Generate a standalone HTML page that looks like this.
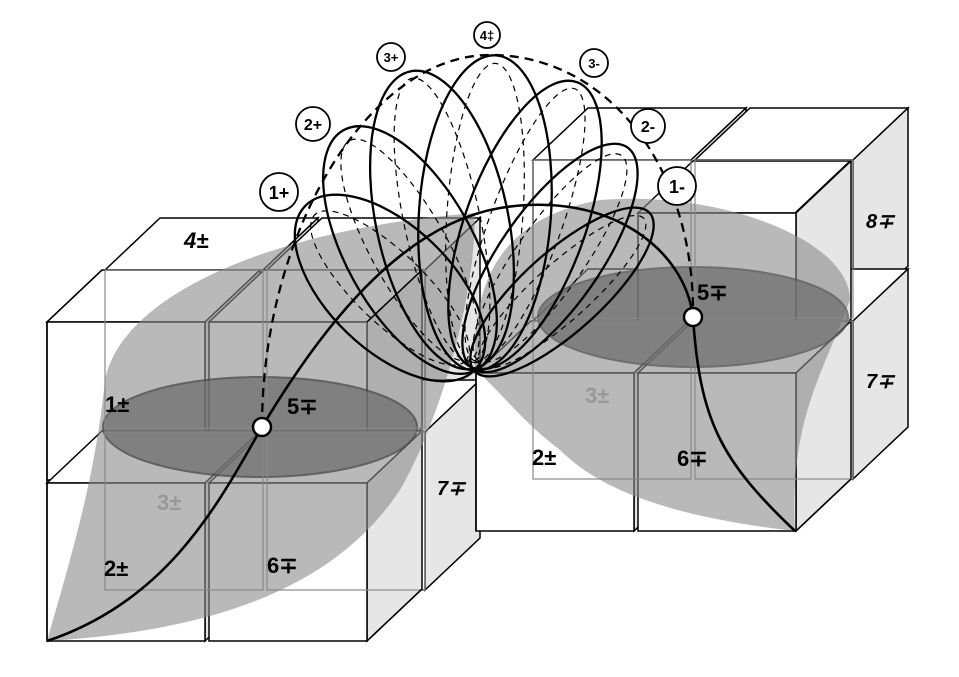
<!DOCTYPE html>
<html><head><style>html,body{margin:0;padding:0;background:#fff}svg{display:block}</style></head>
<body>
<svg width="959" height="677" viewBox="0 0 959 677" xmlns="http://www.w3.org/2000/svg" font-family="Liberation Sans, sans-serif">
<defs>
<g id="cube">
  <polygon points="0,0 55,-52 213,-52 158,0" fill="#fff" stroke="#000" stroke-width="1.5"/>
  <polygon points="158,0 213,-52 213,106 158,158" fill="#e6e6e6" stroke="#000" stroke-width="1.5"/>
  <rect x="0" y="0" width="158" height="158" fill="#fff" stroke="#000" stroke-width="1.5"/>
</g>
</defs>

<!-- LEFT GROUP: back layer -->
<use href="#cube" x="105" y="270"/><use href="#cube" x="267" y="270"/>
<use href="#cube" x="105" y="432"/><use href="#cube" x="267" y="432"/>
<!-- LEFT front layer -->
<use href="#cube" x="47" y="322"/><use href="#cube" x="209" y="322"/>
<use href="#cube" x="47" y="483"/><use href="#cube" x="209" y="483"/>

<!-- RIGHT GROUP back layer -->
<use href="#cube" x="533" y="160"/><use href="#cube" x="695" y="160"/>
<use href="#cube" x="533" y="321"/><use href="#cube" x="695" y="321"/>
<!-- RIGHT front layer -->
<use href="#cube" x="638" y="213"/>
<use href="#cube" x="476" y="373"/><use href="#cube" x="638" y="373"/>

<!-- gray blobs -->
<path d="M47,641 C70,560 95,480 105,380 C120,300 260,230 475,213 C475,300 440,420 400,490 C340,580 230,630 47,641 Z" fill="#8a8a8a" opacity="0.6"/>
<path d="M475,370 C470,260 520,215 600,200 C720,190 850,240 850,300 C820,380 790,420 795,531 C700,520 610,500 560,450 C520,420 500,390 475,370 Z" fill="#8a8a8a" opacity="0.6"/>
<ellipse cx="260" cy="427" rx="157" ry="50" fill="#6e6e6e" opacity="0.75" stroke="#444" stroke-width="2"/>
<ellipse cx="693" cy="317" rx="155" ry="50" fill="#6e6e6e" opacity="0.75" stroke="#555" stroke-width="2"/>

<!-- hidden/transparent edges -->
<g fill="none" stroke="#888" stroke-width="1.2">
  <rect x="105" y="270" width="158" height="158"/><rect x="267" y="270" width="158" height="158"/>
  <rect x="105" y="432" width="158" height="158"/><rect x="267" y="432" width="158" height="158"/>
  <rect x="533" y="160" width="158" height="158"/><rect x="695" y="160" width="158" height="158"/>
  <rect x="533" y="321" width="158" height="158"/><rect x="695" y="321" width="158" height="158"/>
</g>
<g fill="none" stroke="#000" stroke-width="1.5">
  <polyline points="47,641 47,322 102,270"/><line x1="367" y1="322" x2="422" y2="270"/>
  <line x1="476" y1="531" x2="476" y2="373"/><line x1="795" y1="213" x2="850" y2="161"/>
  <line x1="796" y1="531" x2="851" y2="479"/>
  <line x1="367" y1="641" x2="422" y2="589"/>
</g>

<!-- loops -->
<g fill="none" stroke="#000">
  <g stroke-width="1.2" stroke-dasharray="6,5">
    <ellipse cx="390" cy="288" rx="105" ry="35" transform="rotate(44 390 288)"/>
    <ellipse cx="410" cy="250" rx="125" ry="38" transform="rotate(61 410 250)"/>
    <ellipse cx="442" cy="220" rx="145" ry="38" transform="rotate(78 442 220)"/>
    <ellipse cx="485" cy="213" rx="150" ry="38" transform="rotate(94 485 213)"/>
    <ellipse cx="525" cy="225" rx="145" ry="36" transform="rotate(110 525 225)"/>
    <ellipse cx="550" cy="258" rx="125" ry="34" transform="rotate(125 550 258)"/>
    <ellipse cx="562" cy="292" rx="110" ry="28" transform="rotate(138 562 292)"/>
  </g>
  <g stroke-width="2.3">
    <ellipse cx="390" cy="288" rx="118" ry="62" transform="rotate(44 390 288)"/>
    <ellipse cx="410" cy="250" rx="137" ry="64" transform="rotate(61 410 250)"/>
    <ellipse cx="442" cy="220" rx="152" ry="66" transform="rotate(78 442 220)"/>
    <ellipse cx="485" cy="213" rx="158" ry="66" transform="rotate(94 485 213)"/>
    <ellipse cx="525" cy="225" rx="152" ry="60" transform="rotate(110 525 225)"/>
    <ellipse cx="550" cy="258" rx="135" ry="50" transform="rotate(125 550 258)"/>
    <ellipse cx="562" cy="292" rx="118" ry="40" transform="rotate(138 562 292)"/>
  </g>
  <path d="M262,427 C262,230 370,55 490,55 C610,55 695,170 693,317" stroke-width="2.3" stroke-dasharray="9,6"/>
  <path d="M47,641 C170,600 220,500 262,427 C320,330 400,225 500,208 C610,190 685,250 693,317 C700,420 720,460 795,531" stroke-width="2.6"/>
</g>
<circle cx="262" cy="427" r="9" fill="#fff" stroke="#000" stroke-width="2.5"/>
<circle cx="693" cy="317" r="9" fill="#fff" stroke="#000" stroke-width="2.5"/>

<g font-weight="bold" text-anchor="middle" fill="#000">
  <g fill="#fff" stroke="#000" stroke-width="1.8">
    <circle cx="279" cy="192" r="19"/><circle cx="313" cy="124" r="17"/><circle cx="391" cy="57" r="14"/>
    <circle cx="487" cy="35" r="13"/><circle cx="594" cy="63" r="14"/><circle cx="648" cy="126" r="17"/><circle cx="677" cy="186" r="19"/>
  </g>
  <text x="279" y="199" font-size="18">1+</text>
  <text x="313" y="130" font-size="16">2+</text>
  <text x="391" y="62" font-size="13">3+</text>
  <text x="487" y="40" font-size="13">4‡</text>
  <text x="594" y="68" font-size="13">3-</text>
  <text x="648" y="132" font-size="16">2-</text>
  <text x="677" y="193" font-size="18">1-</text>
</g>

<g font-weight="bold" font-size="22" fill="#000">
  <text x="105" y="412">1±</text>
  <text x="287" y="414">5∓</text>
  <text x="157" y="510" fill="#999">3±</text>
  <text x="104" y="576">2±</text>
  <text x="267" y="573">6∓</text>
  <text x="184" y="248" font-style="italic">4±</text>
  <text x="437" y="495" font-style="italic" font-size="20">7∓</text>
  <text x="532" y="465">2±</text>
  <text x="585" y="403" fill="#999">3±</text>
  <text x="677" y="466">6∓</text>
  <text x="697" y="300">5∓</text>
  <text x="866" y="228" font-style="italic" font-size="20">8∓</text>
  <text x="866" y="388" font-style="italic" font-size="20">7∓</text>
</g>
</svg>
</body></html>
